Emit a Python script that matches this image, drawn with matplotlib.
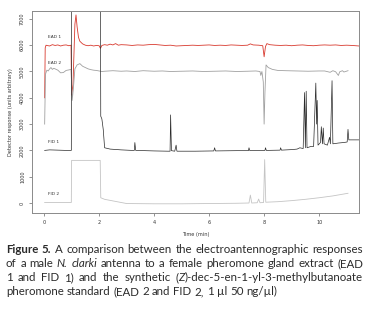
import matplotlib
matplotlib.use("Agg")
import matplotlib.pyplot as plt

# ---------------- data ----------------
ead1_t = [0.02, 0.04, 0.07, 0.1, 0.2, 0.3, 0.4, 0.5, 0.6, 0.7, 0.8, 0.9, 0.98, 1.0, 1.05, 1.12, 1.16, 1.2,
          1.25, 1.3, 1.4, 1.5, 1.6, 1.7, 1.8, 1.9, 2.0, 2.05, 2.1, 2.2, 2.3, 2.4, 2.5, 2.6, 2.7, 2.8, 3.0,
          3.2, 3.4, 3.6, 3.8, 4.0, 4.2, 4.4, 4.6, 4.8, 5.0, 5.2, 5.4, 5.6, 5.8, 6.0, 6.2, 6.4, 6.6, 6.8,
          7.0, 7.2, 7.4, 7.5, 7.6, 7.8, 7.95, 8.0, 8.05, 8.1, 8.2, 8.4, 8.6, 8.8, 9.0, 9.2, 9.4, 9.6, 9.8,
          10.0, 10.2, 10.4, 10.6, 10.8, 11.0, 11.2, 11.45]
ead1_v = [4000, 5900, 6000, 5990, 5970, 6020, 5990, 6010, 5970, 6000, 6010, 5980, 6000, 4100, 4500, 6800, 7150, 6700,
          6300, 6150, 6050, 6000, 5980, 6000, 5970, 5990, 5980, 5880, 5990, 6020, 6000, 6040, 6010, 6060, 6000, 6020, 6010,
          5990, 6010, 6000, 6020, 6030, 6010, 5990, 6000, 5970, 5980, 5990, 6000, 5990, 6000, 6010, 5990, 6000, 5990, 6010,
          6000, 5990, 6000, 6050, 6010, 6000, 5980, 5560, 5950, 6060, 6020, 6000, 5990, 6000, 5980, 6000, 6010, 5990, 5980,
          6000, 6010, 6000, 6010, 5990, 6000, 5990, 5970]

ead2_t = [0.02, 0.05, 0.1, 0.15, 0.2, 0.25, 0.3, 0.35, 0.4, 0.5, 0.6, 0.7, 0.8, 0.9, 0.98, 1.02, 1.06, 1.12, 1.2,
          1.3, 1.4, 1.5, 1.6, 1.7, 1.8, 1.9, 2.0, 2.1, 2.2, 2.5, 2.8, 3.0, 3.3, 3.6, 4.0, 4.3, 4.6, 5.0, 5.4, 5.8,
          6.2, 6.6, 7.0, 7.4, 7.7, 7.85, 7.88, 7.92, 7.97, 8.0, 8.03, 8.07, 8.15, 8.3, 8.5, 8.8, 9.2, 9.6, 10.0,
          10.2, 10.4, 10.5, 10.6, 10.7, 10.75, 10.85, 10.9, 11.05]
ead2_v = [3000, 4900, 5050, 5020, 5100, 5150, 5080, 5120, 5100, 5050, 4950, 4960, 5040, 5060, 5080, 3900, 4300, 5100, 5250,
          5300, 5200, 5150, 5100, 5070, 5050, 5040, 5020, 5000, 5010, 5030, 5010, 5020, 5000, 5030, 5010, 5020, 5000, 5010, 5020, 5000,
          5010, 5020, 5000, 5010, 5020, 5000, 4850, 5000, 4600, 3000, 4200, 5250, 5150, 5080, 5040, 5030, 5020, 5010, 5020,
          5020, 4970, 5030, 4990, 4850, 4990, 5030, 4980, 5030]

fid1_t = [0.02, 0.2, 0.5, 0.8, 0.99, 1.0, 2.05, 2.06, 2.1, 2.15, 2.2, 2.4, 2.8, 3.2, 3.28, 3.3, 3.33, 4.0, 4.5, 4.58,
          4.6, 4.63, 4.75, 4.8, 4.83, 5.5, 6.17, 6.2, 6.23, 7.0, 7.43, 7.45, 7.48, 8.03, 8.05, 8.08, 8.58, 8.6, 8.63,
          9.0, 9.2, 9.3, 9.42, 9.47, 9.5, 9.53, 9.56, 9.7, 9.8, 9.88, 9.91, 9.93, 9.96, 10.05, 10.08, 10.12, 10.15,
          10.18, 10.3, 10.38, 10.41, 10.47, 10.5, 10.7, 10.9, 11.02, 11.05, 11.08, 11.3, 11.45]
fid1_v = [2000, 2020, 2010, 2000, 2000, 7600, 7600, 3300, 3200, 2800, 2100, 2050, 2020, 2000, 2000, 2300, 2000, 1980, 1970, 1970,
          3350, 1990, 1970, 2200, 1970, 1970, 1980, 2100, 1980, 1990, 1990, 2100, 1990, 2000, 2100, 2000, 2010, 2100, 2010,
          2030, 2050, 2100, 2070, 4200, 2100, 4250, 2100, 2150, 2150, 4560, 3000, 3900, 2200, 2300, 2900, 2250, 2850,
          2250, 2200, 2500, 2250, 4650, 2250, 2280, 2300, 2320, 2800, 2400, 2400, 2400]

fid2_t = [0.02, 0.5, 0.99, 1.0, 2.04, 2.06, 2.2, 2.5, 2.8, 3.0, 4.0, 5.0, 6.0, 7.0, 7.45, 7.5, 7.55, 7.75, 7.8, 7.85,
          7.98, 8.02, 8.06, 8.5, 9.0, 9.5, 10.0, 10.5, 11.05]
fid2_v = [20, 20, 20, 1620, 1620, 200, 140, 80, 20, -20, -30, -30, -20, -10, 0, 300, 0, 10, 150, 10,
          20, 1650, 30, 50, 90, 140, 200, 270, 370]

trace_labels = ["EAD 1", "EAD 2", "FID 1", "FID 2"]
label_y = [6250, 5250, 2250, 250]
x_ticks = [0, 2, 4, 6, 8, 10]
y_ticks = [0, 1000, 2000, 3000, 4000, 5000, 6000, 7000]

# ---------------- figure ----------------
W, H = 376, 315
fig = plt.figure(figsize=(W / 100, H / 100), dpi=100)
ax = fig.add_axes([32 / W, 1 - 213 / H, (359 - 32) / W, (213 - 11) / H])

ax.plot(ead1_t, ead1_v, color="#d8392e", lw=0.6)
ax.plot(ead2_t, ead2_v, color="#a0a0a0", lw=0.6)
ax.plot(fid1_t, fid1_v, color="#2a2a2a", lw=0.5)
ax.plot(fid2_t, fid2_v, color="#c4c4c4", lw=0.6)

ax.set_xlim(-0.44, 11.45)
ax.set_ylim(-380, 7300)

for lab, yv in zip(trace_labels, label_y):
    ax.text(0.15, yv, lab, fontsize=3.2, color="#333333", va="bottom", ha="left")

for s in ax.spines.values():
    s.set_color("#8a8a8a")
    s.set_linewidth(0.7)

ax.set_xticks(x_ticks)
ax.set_xticklabels([str(v) for v in x_ticks])
ax.set_yticks(y_ticks)
ax.set_yticklabels([str(v) for v in y_ticks], rotation=90, va="center")
ax.tick_params(axis="both", labelsize=3.5, length=2.5, width=0.5, color="#666666",
               labelcolor="#333333", pad=2.5)
ax.set_xlabel("Time (min)", fontsize=3.6, color="#333333", labelpad=5)
ax.set_ylabel("Detector response (units arbitrary)", fontsize=3.6, color="#333333", labelpad=5)

# ---------------- caption (justified) ----------------
cap_font = "Lato"
cap_color = "#2b2b2b"
left_px, right_px = 6, 363
line_y = [253, 267, 281, 295]

# Each line: list of words; each word is list of (text, style)
caption_lines = [
    [[("Figure", "bold")], [("5.", "bold")], [("A", "n")], [("comparison", "n")], [("between", "n")],
     [("the", "n")], [("electroantennographic", "n")], [("responses", "n")]],
    [[("of", "n")], [("a", "n")], [("male", "n")], [("N.", "i")], [("clarki", "i")], [("antenna", "n")],
     [("to", "n")], [("a", "n")], [("female", "n")], [("pheromone", "n")], [("gland", "n")],
     [("extract", "n")], [("(EAD", "n")]],
    [[("1", "n")], [("and", "n")], [("FID", "n")], [("1)", "n")], [("and", "n")], [("the", "n")],
     [("synthetic", "n")], [("(", "n"), ("Z", "i"), (")-dec-5-en-1-yl-3-methylbutanoate", "n")]],
    [[("pheromone", "n")], [("standard", "n")], [("(EAD", "n")], [("2", "n")], [("and", "n")],
     [("FID", "n")], [("2,", "n")], [("1", "n")], [("µl", "n")], [("50", "n")], [("ng/µl)", "n")]],
]
justify = [True, True, True, False]

renderer = fig.canvas.get_renderer()


def make(txt, style, x, y, size):
    kw = dict(fontsize=size, family=cap_font, color=cap_color, va="baseline", ha="left")
    if style == "bold":
        kw["weight"] = "bold"
    if style == "i":
        kw["style"] = "italic"
    return fig.text(x / W, 1 - y / H, txt, **kw)


def width(txt, style, size):
    t = make(txt, style, 0, -100, size)
    wd = t.get_window_extent(renderer).width
    t.remove()
    return wd


def space_width(size):
    return width("a a", "n", size) - width("aa", "n", size)


def line_natural(words, size):
    tot = sum(width(txt, st, size) for w in words for txt, st in w)
    return tot + space_width(size) * (len(words) - 1)


# fit font size so that the first line fills the column with normal spacing
size0 = 10.0
nat = line_natural(caption_lines[0], size0)
cap_size = size0 * (right_px - left_px) / nat * 0.995
sp = space_width(cap_size)

for words, just, yb in zip(caption_lines, justify, line_y):
    pieces = []
    word_widths = []
    for w in words:
        seg = [(txt, st, width(txt, st, cap_size)) for txt, st in w]
        pieces.append(seg)
        word_widths.append(sum(s[2] for s in seg))
    total = sum(word_widths)
    if just and len(words) > 1:
        gap = (right_px - left_px - total) / (len(words) - 1)
    else:
        gap = sp
    x = left_px
    for seg, ww in zip(pieces, word_widths):
        xx = x
        for txt, st, wd in seg:
            make(txt, st, xx, yb, cap_size)
            xx += wd
        x += ww + gap

fig.savefig("out.png", dpi=100)
